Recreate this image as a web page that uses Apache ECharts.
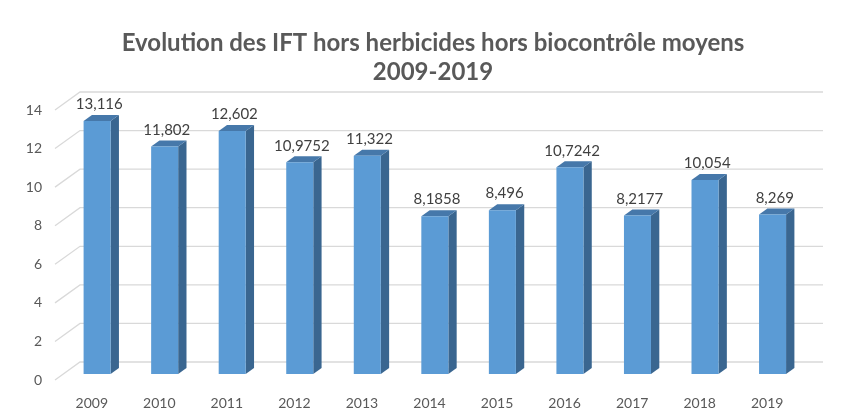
<!DOCTYPE html>
<html lang="fr" style="height: 100%">
  <head>
    <meta charset="utf-8" />
  </head>
  <body style="height: 100%; margin: 0; background: #fff">
    <div id="container" style="width: 843px; height: 412px"></div>

    <script
      type="text/javascript"
      src="https://cdn.jsdelivr.net/npm/echarts@6/dist/echarts.min.js"
    ></script>

    <script type="text/javascript">
      var years = ["2009", "2010", "2011", "2012", "2013", "2014", "2015", "2016", "2017", "2018", "2019"];
      var ift = [13.116, 11.802, 12.602, 10.9752, 11.322, 8.1858, 8.496, 10.7242, 8.2177, 10.054, 8.269];
      var yTicks = [0, 2, 4, 6, 8, 10, 12, 14];

      // fake 3d depth (px)
      var DX = 25;
      var DY = 18;

      var dom = document.getElementById("container");
      var myChart = echarts.init(dom, null, { renderer: "canvas" });

      function frLabel(v) {
        return String(v).replace(".", ",");
      }

      function renderWall(params, api) {
        var cs = params.coordSys;
        var y = api.coord([0, api.value(0)])[1];
        var x0 = cs.x;
        return {
          type: "polyline",
          shape: {
            points: [
              [x0, y],
              [x0 + DX, y - DY],
              [x0 + cs.width + DX, y - DY],
            ],
          },
          style: { stroke: "#d9d9d9", lineWidth: 1.3, fill: null },
          silent: true,
        };
      }

      function renderBar(params, api) {
        var idx = api.value(0);
        var v = api.value(1);
        var top = api.coord([idx, v]);
        var base = api.coord([idx, 0]);
        var hw = (api.size([1, 0])[0] * 0.4) / 2;
        var ox = DX / 3, oy = DY / 3;
        var bx = DX / 3, by = DY / 3;
        var l = base[0] - hw + ox;
        var r = base[0] + hw + ox;
        var t = top[1] - oy;
        var b = base[1] - oy;
        return {
          type: "group",
          children: [
            {
              type: "polygon",
              shape: { points: [[r, t], [r + bx, t - by], [r + bx, b - by], [r, b]] },
              style: { fill: "#3a6690" },
            },
            {
              type: "polygon",
              shape: { points: [[l, t], [l + bx, t - by], [r + bx, t - by], [r, t]] },
              style: { fill: "#4678aa" },
            },
            {
              type: "rect",
              shape: { x: l, y: t, width: r - l, height: b - t },
              style: { fill: "#5b9bd5" },
            },
            {
              type: "text",
              x: (l + r + bx) / 2 - 2,
              y: t - by - 3,
              style: {
                text: frLabel(v),
                fill: "#404040",
                font: "15px Lato",
                align: "center",
                verticalAlign: "bottom",
              },
            },
          ],
        };
      }

      var option = {
        animation: false,
        title: {
          text: "Evolution des IFT hors herbicides hors biocontrôle moyens\n2009-2019",
          left: 428,
          textAlign: "center",
          top: 24,
          textStyle: {
            fontFamily: "Lato",
            fontSize: 24,
            fontWeight: "bold",
            color: "#595959",
            lineHeight: 29,
          },
        },
        grid: { left: 55, right: 45, top: 110, bottom: 32 },
        xAxis: {
          type: "category",
          data: years,
          axisLine: { show: false },
          axisTick: { show: false },
          axisLabel: {
            color: "#595959",
            fontSize: 14,
            fontFamily: "Lato",
            margin: 16,
            padding: [0, 0, 0, 6],
          },
        },
        yAxis: {
          type: "value",
          min: 0,
          max: 14,
          interval: 2,
          splitLine: { show: false },
          axisLabel: { color: "#595959", fontSize: 14, fontFamily: "Lato", margin: 13 },
        },
        series: [
          {
            type: "custom",
            renderItem: renderWall,
            data: yTicks.map(function (t) { return [t]; }),
            encode: { y: 0 },
            silent: true,
            z: 1,
          },
          {
            type: "custom",
            renderItem: renderBar,
            data: ift.map(function (v, i) { return [i, v]; }),
            encode: { x: 0, y: 1 },
            z: 2,
          },
        ],
      };

      myChart.setOption(option);
    </script>
  </body>
</html>
